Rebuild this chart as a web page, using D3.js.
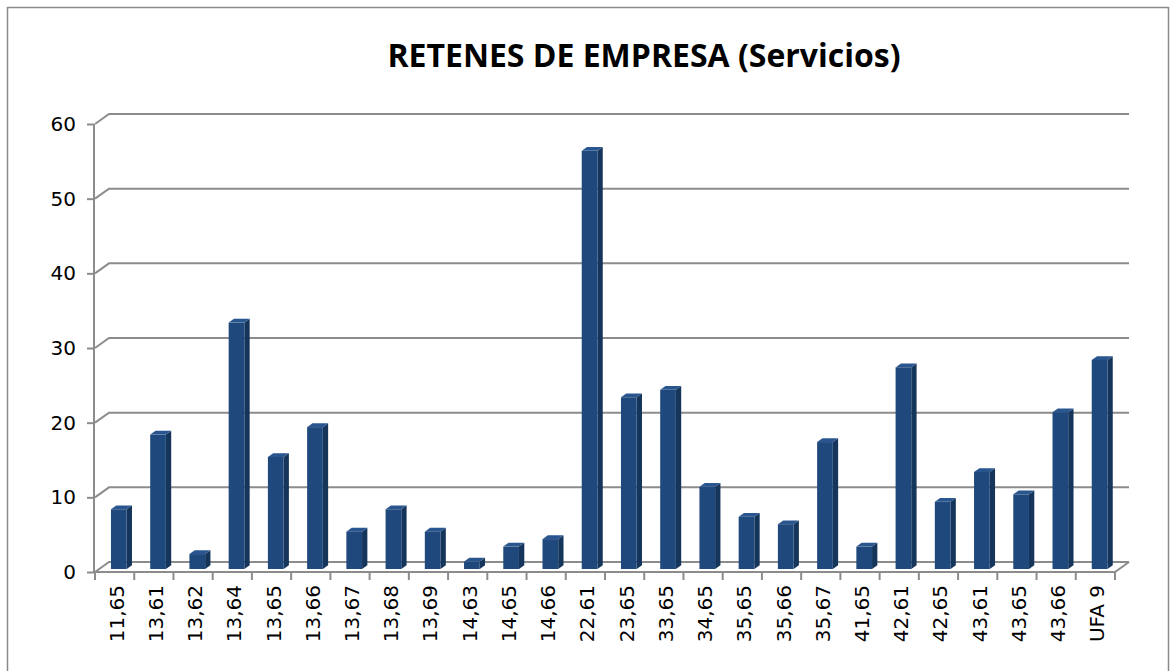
<!DOCTYPE html>
<html>
<head>
<meta charset="utf-8">
<script src="https://cdn.jsdelivr.net/npm/d3@7"></script>
<style>
  body { margin: 0; background: #fff; }
  svg { display: block; }
</style>
</head>
<body>
<svg id="chart" width="1175" height="671"></svg>
<script>
// datos
var categorias = ["11,65", "13,61", "13,62", "13,64", "13,65", "13,66", "13,67", "13,68", "13,69",
                  "14,63", "14,65", "14,66", "22,61", "23,65", "33,65", "34,65", "35,65", "35,66",
                  "35,67", "41,65", "42,61", "42,65", "43,61", "43,65", "43,66", "UFA 9"];
var retenes = [8, 18, 2, 33, 15, 19, 5, 8, 5, 1, 3, 4, 56, 23, 24, 11, 7, 6, 17, 3, 27, 9, 13, 10, 21, 28];
var ticksY = [0, 10, 20, 30, 40, 50, 60];
var titulo = "RETENES DE EMPRESA (Servicios)";

var svg = d3.select("#chart");

// marco exterior
svg.append("path")
    .attr("d", "M7.5,675 V7.5 H1168.5 V675")
    .style("fill", "none")
    .style("stroke", "#8a8a8a")
    .style("stroke-width", 1.5);

svg.append("text")
    .attr("x", 644)
    .attr("y", 67)
    .attr("text-anchor", "middle")
    .style("font-family", "'Open Sans', sans-serif")
    .style("font-weight", "bold")
    .style("font-size", "32px")
    .style("fill", "#000")
    .text(titulo);

// profundidad 3D (pared del fondo)
var DX = 14, DY = -10;

var x = d3.scaleBand()
    .domain(categorias)
    .range([95, 1115])
    .paddingInner(0)
    .paddingOuter(0);

var y = d3.scaleLinear()
    .domain([0, 60])
    .range([572, 124]);

var gris = "#8c8c8c";
var x0 = x.range()[0], x1 = x.range()[1];

// lineas de la pared del fondo
var grid = svg.append("g");
ticksY.forEach(function(t) {
    grid.append("path")
        .attr("d", "M" + x0 + "," + y(t) + " L" + (x0 + DX) + "," + (y(t) + DY) + " H" + (x1 + DX))
        .style("fill", "none")
        .style("stroke", gris)
        .style("stroke-width", 2);
});
// suelo
grid.append("path")
    .attr("d", "M" + x0 + "," + y(0) + " H" + x1 + " L" + (x1 + DX) + "," + (y(0) + DY))
    .style("fill", "none")
    .style("stroke", gris)
    .style("stroke-width", 2);
// eje vertical
grid.append("line")
    .attr("x1", x0 - 1).attr("x2", x0 - 1)
    .attr("y1", y(60)).attr("y2", y(0) + 1)
    .style("stroke", gris)
    .style("stroke-width", 2);

// eje Y
var ejeY = svg.append("g")
    .attr("transform", "translate(" + (x0 - 1) + ",0)")
    .call(d3.axisLeft(y).tickValues(ticksY).tickSize(7).tickPadding(11).tickFormat(d3.format("d")));
ejeY.select(".domain").remove();
ejeY.selectAll(".tick line").style("stroke", gris).style("stroke-width", 2);
ejeY.selectAll("text")
    .style("font-family", "'DejaVu Sans', sans-serif")
    .style("font-size", "20px")
    .style("fill", "#000");

// marcas de categoria (en los limites)
var limites = categorias.map(function(c) { return x(c); }).concat([x1]);
svg.append("g").selectAll("line")
    .data(limites)
    .enter()
    .append("line")
    .attr("x1", function(d) { return d; })
    .attr("x2", function(d) { return d; })
    .attr("y1", y(0))
    .attr("y2", y(0) + 8)
    .style("stroke", gris)
    .style("stroke-width", 2);

// etiquetas de categoria
var ejeX = svg.append("g")
    .attr("transform", "translate(0," + y(0) + ")")
    .call(d3.axisBottom(x).tickSize(0).tickPadding(0));
ejeX.select(".domain").remove();
ejeX.selectAll("text")
    .attr("transform", "rotate(-90)")
    .attr("x", -13)
    .attr("y", 2)
    .attr("dy", "0.35em")
    .attr("text-anchor", "end")
    .style("font-family", "'DejaVu Sans', sans-serif")
    .style("font-size", "20px")
    .style("fill", "#000");

// barras 3D
var bw = x.bandwidth() * 0.4;
var fz = 0.3, bz = 0.68; // fraccion de profundidad frontal / trasera
var fdx = DX * fz, fdy = DY * fz, bdx = DX * bz, bdy = DY * bz;

var barras = svg.append("g").selectAll(".barra")
    .data(categorias.map(function(c, i) { return {cat: c, val: retenes[i]}; }))
    .enter()
    .append("g")
    .attr("class", "barra");

function xl(d) { return x(d.cat) + (x.bandwidth() - bw) / 2 + fdx; }

// lado
barras.append("path")
    .attr("d", function(d) {
        var xr = xl(d) + bw, yb = y(0) + fdy, yt = y(d.val) + fdy;
        return "M" + xr + "," + yb + " L" + (xr + bdx - fdx) + "," + (yb + bdy - fdy) +
               " L" + (xr + bdx - fdx) + "," + (yt + bdy - fdy) + " L" + xr + "," + yt + "Z";
    })
    .style("fill", "#16355a");
// tapa
barras.append("path")
    .attr("d", function(d) {
        var xa = xl(d), yt = y(d.val) + fdy, ox = bdx - fdx, oy = bdy - fdy;
        return "M" + xa + "," + yt + " L" + (xa + ox) + "," + (yt + oy) +
               " L" + (xa + bw + ox) + "," + (yt + oy) + " L" + (xa + bw) + "," + yt + "Z";
    })
    .style("fill", "#2a5690");
// frente
barras.append("rect")
    .attr("x", xl)
    .attr("y", function(d) { return y(d.val) + fdy; })
    .attr("width", bw)
    .attr("height", function(d) { return y(0) - y(d.val); })
    .style("fill", "#1f497d");
</script>
</body>
</html>
